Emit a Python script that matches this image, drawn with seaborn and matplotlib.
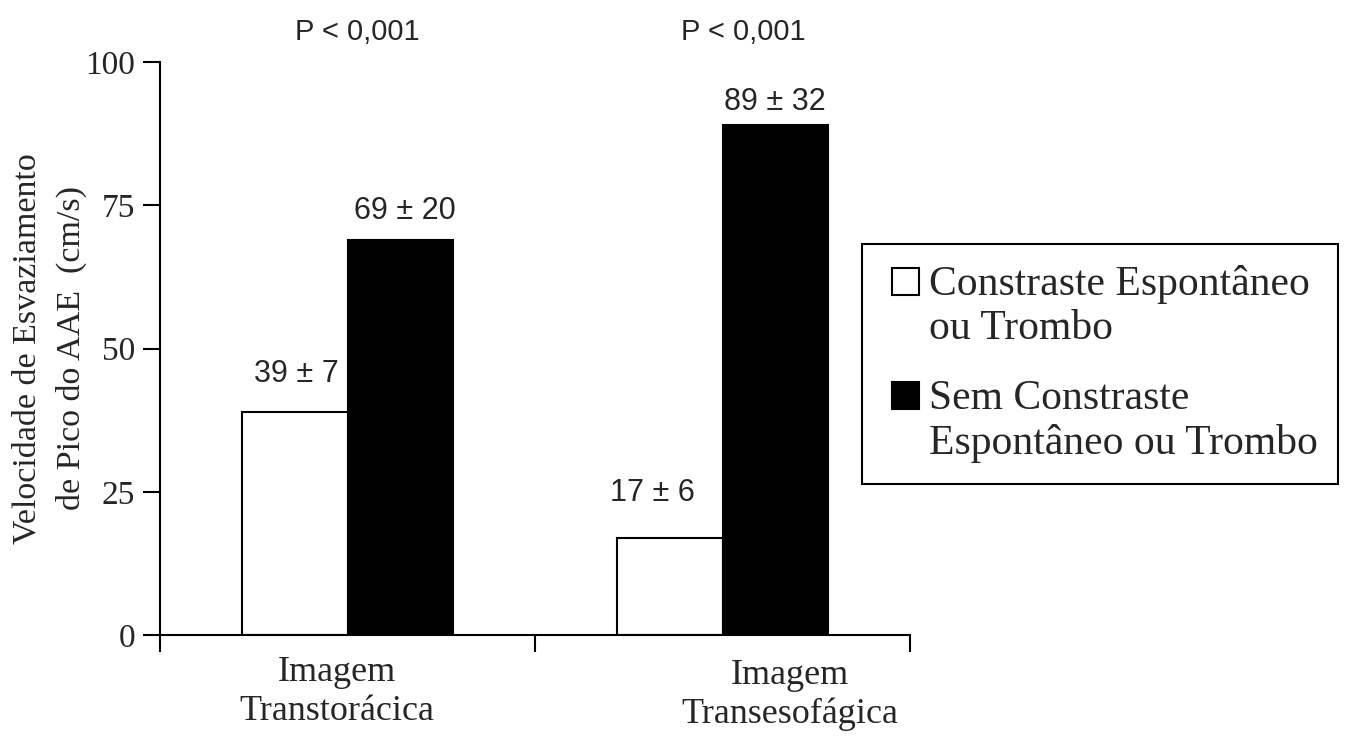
import numpy as np
import pandas as pd
import matplotlib
matplotlib.use('Agg')
import matplotlib.pyplot as plt
import matplotlib.transforms as mtransforms
from matplotlib.patches import Rectangle
from matplotlib.legend_handler import HandlerPatch
import seaborn as sb

# data
categories = ['Imagem\nTranstorácica', 'Imagem\nTransesofágica']
series = ['Constraste Espontâneo\nou Trombo', 'Sem Constraste\nEspontâneo ou Trombo']
with_contrast = [39, 17]
with_contrast_sd = [7, 6]
without_contrast = [69, 89]
without_contrast_sd = [20, 32]
p_values = ['P < 0,001', 'P < 0,001']
y_ticks = [0, 25, 50, 75, 100]

df = pd.DataFrame({
    'cat': categories * 2,
    'group': [series[0]] * 2 + [series[1]] * 2,
    'value': with_contrast + without_contrast,
})

sb.set_style('white')
plt.rcParams['font.family'] = ['Liberation Serif', 'DejaVu Serif']

fig = plt.figure(figsize=(13.49, 7.40), dpi=100)
ax = fig.add_axes([160/1349, 1-635/740, 750/1349, 573/740])

sb.barplot(data=df, x='cat', y='value', hue='group', order=categories,
           hue_order=series, palette=['white', 'black'], edgecolor='black',
           linewidth=1.5, width=0.565, saturation=1, errorbar=None, ax=ax)

ax.set_xlim(-0.5, 1.5)
ax.set_ylim(0, 100)
ax.set_yticks(y_ticks)
ax.set_yticklabels([str(t) for t in y_ticks], fontsize=24)
ax.set_xticks([-0.5, 0.5, 1.5])
ax.set_xticklabels([])
ax.tick_params(axis='both', direction='out', length=12, width=1.5, color='black',
               left=True, bottom=True, pad=6)
for side in ['top', 'right']:
    ax.spines[side].set_visible(False)
for side in ['left', 'bottom']:
    ax.spines[side].set_color('black')
    ax.spines[side].set_linewidth(1.5)

ax.set_xlabel('')
ax.set_ylabel('Velocidade de Esvaziamento\nde Pico do AAE  (cm/s)', fontsize=24.5,
              labelpad=-1, linespacing=1.55)

# category labels sit between the category ticks, second one a little lower
trans = mtransforms.blended_transform_factory(ax.transData, ax.transAxes)
ax.text(-0.028, -0.036, categories[0], transform=trans, ha='center', va='top',
        fontsize=26, linespacing=1.27)
ax.text(1.18, -0.042, categories[1], transform=trans, ha='center', va='top',
        fontsize=26, linespacing=1.2)

# value labels
sans = 'Liberation Sans'
white_dx = [-0.135, -0.188]
black_dx = [0.153, 0.14]
white_dy = [6.5, 7.8]
black_dy = [5.0, 4.0]
p_dx = [0.025, 0.055]
for i in range(2):
    ax.text(i + white_dx[i], with_contrast[i] + white_dy[i],
            '{} ± {}'.format(with_contrast[i], with_contrast_sd[i]),
            ha='center', va='center', fontsize=22, family=sans)
    ax.text(i + black_dx[i], without_contrast[i] + black_dy[i],
            '{} ± {}'.format(without_contrast[i], without_contrast_sd[i]),
            ha='center', va='center', fontsize=22, family=sans)
    ax.text(i + p_dx[i], 1.053, p_values[i], transform=trans, ha='center',
            va='center', fontsize=21, family=sans)


def square_patch(legend, orig_handle, xdescent, ydescent, width, height, fontsize):
    # small square next to the first line of the label, like the original legend
    s = fontsize * 0.65
    return Rectangle((width - s - xdescent, height - s - ydescent + 2 + 0.52 * fontsize), s, s)


handles, labels = ax.get_legend_handles_labels()
leg = ax.legend(handles, labels, loc='upper left',
                bbox_to_anchor=(862/1349, 1-244/740), bbox_transform=fig.transFigure,
                fontsize=30, frameon=True, fancybox=False, edgecolor='black',
                framealpha=1, handlelength=0.86, handleheight=0.7, handletextpad=0.24,
                labelspacing=0.75, borderpad=0.5, borderaxespad=0,
                handler_map={Rectangle: HandlerPatch(patch_func=square_patch)})
leg.get_frame().set_linewidth(1.5)

plt.savefig('out.png', dpi=100)
